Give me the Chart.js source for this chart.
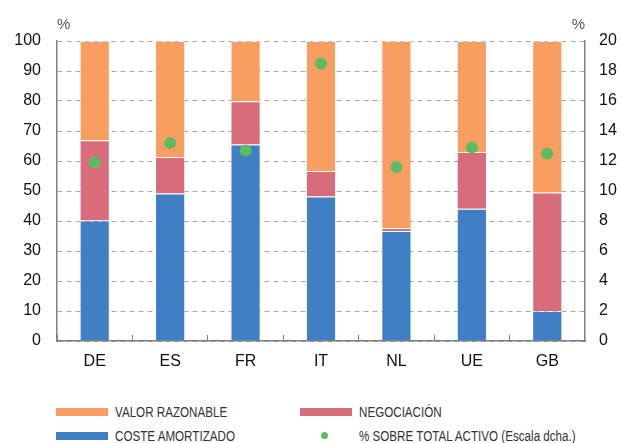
<!DOCTYPE html>
<html>
<head>
<meta charset="utf-8">
<script src="https://cdn.jsdelivr.net/npm/chart.js@4/dist/chart.umd.min.js"></script>
<style>
  body { margin: 0; background: #fff; width: 621px; height: 443px; overflow: hidden; position: relative; font-family: "Liberation Sans", Arial, sans-serif; }
  #wrap { position: absolute; left: 0; top: 0; width: 621px; height: 380px; }
  .lg { position: absolute; font-family: "Liberation Sans", Arial, sans-serif; font-size: 15.5px; color: #333; line-height: 16px; white-space: nowrap; transform: scaleX(0.75); transform-origin: left center; }
  .sw { position: absolute; width: 52px; height: 8px; }
  .dot { position: absolute; width: 7px; height: 7px; border-radius: 50%; }
</style>
</head>
<body>
<div id="wrap"><canvas id="myChart"></canvas></div>
<div id="legend"></div>
<script>
const countries = ["DE", "ES", "FR", "IT", "NL", "UE", "GB"];
const costeAmortizado = [40.2, 49.2, 65.5, 48.2, 36.7, 44.1, 10.0];
const negociacion = [26.7, 12.1, 14.4, 8.5, 1.0, 18.9, 39.5];
const valorRazonable = [33.1, 38.7, 20.1, 43.3, 62.3, 37.0, 50.5];
const sobreActivo = [11.9, 13.2, 12.7, 18.5, 11.6, 12.9, 12.5];
const leftTicks = [0, 100, 10];
const rightTicks = [0, 20, 2];

const orange = "#f89e61";
const red = "#d86c7b";
const blue = "#3f7fc3";
const green = "#5dbb63";
const gridGray = "#a8a8a8";
const axisGray = "#808080";
const tickFont = { family: "'Liberation Sans', Arial, sans-serif", size: 16 };

const percentLabels = {
  id: "percentLabels",
  afterDraw(chart) {
    const { ctx, chartArea } = chart;
    ctx.save();
    ctx.font = "15px 'Liberation Sans', Arial, sans-serif";
    ctx.fillStyle = "#555";
    ctx.textBaseline = "middle";
    ctx.textAlign = "left";
    ctx.fillText("%", chartArea.left, 25);
    ctx.textAlign = "right";
    ctx.fillText("%", chartArea.right, 25);
    ctx.restore();
  },
};

const datasets = [
  {
    type: "line",
    label: "% SOBRE TOTAL ACTIVO (Escala dcha.)",
    data: sobreActivo,
    yAxisID: "y1",
    showLine: false,
    pointRadius: 6,
    pointHoverRadius: 6,
    pointBackgroundColor: green,
    pointBorderWidth: 0,
    backgroundColor: green,
    borderColor: green,
    order: 0,
  },
  { label: "COSTE AMORTIZADO", data: costeAmortizado, backgroundColor: blue, borderColor: "rgba(255,255,255,0.35)", borderWidth: 1, order: 1 },
  { label: "NEGOCIACIÓN", data: negociacion, backgroundColor: red, borderColor: "rgba(255,255,255,0.35)", borderWidth: 1, order: 1 },
  { label: "VALOR RAZONABLE", data: valorRazonable, backgroundColor: orange, borderColor: "rgba(255,255,255,0.35)", borderWidth: 1, order: 1 },
];

const ctx = document.getElementById("myChart").getContext("2d");
const myChart = new Chart(ctx, {
  type: "bar",
  data: { labels: countries, datasets },
  options: {
    responsive: true,
    maintainAspectRatio: false,
    animation: false,
    barPercentage: 0.4,
    categoryPercentage: 1,
    layout: { padding: { top: 41, left: 0, right: 0, bottom: 0 } },
    plugins: { legend: { display: false }, tooltip: { enabled: false } },
    scales: {
      x: {
        stacked: true,
        afterFit: (s) => { s.height = 39; },
        grid: { display: true, drawOnChartArea: false, drawTicks: true, tickLength: -6, color: axisGray },
        border: { display: true, color: axisGray, width: 1.5 },
        ticks: { color: "#111", font: tickFont, padding: 17, maxRotation: 0 },
      },
      y: {
        stacked: true,
        min: leftTicks[0],
        max: leftTicks[1],
        afterFit: (s) => { s.width = 57; },
        ticks: { stepSize: leftTicks[2], color: "#111", font: tickFont, padding: 16 },
        grid: { color: gridGray, lineWidth: 1, drawTicks: false },
        border: { display: true, color: axisGray, width: 1.5, dash: [5, 4] },
      },
      y1: {
        position: "right",
        min: rightTicks[0],
        max: rightTicks[1],
        afterFit: (s) => { s.width = 36; },
        ticks: { stepSize: rightTicks[2], color: "#111", font: tickFont, padding: 14 },
        grid: { drawOnChartArea: false, drawTicks: false },
        border: { display: true, color: axisGray, width: 1.5 },
      },
    },
  },
  plugins: [percentLabels],
});

// legend laid out in two columns, like the source
const legendItems = [
  { ds: datasets[3], x: 56, y: 411.5, kind: "bar" },
  { ds: datasets[2], x: 300, y: 411.5, kind: "bar" },
  { ds: datasets[1], x: 56, y: 435.5, kind: "bar" },
  { ds: datasets[0], x: 300, y: 435.5, kind: "dot" },
];
const legend = document.getElementById("legend");
legendItems.forEach((it) => {
  const mark = document.createElement("div");
  if (it.kind === "bar") {
    mark.className = "sw";
    mark.style.left = it.x + "px";
    mark.style.top = it.y - 4 + "px";
  } else {
    mark.className = "dot";
    mark.style.left = it.x + 21 + "px";
    mark.style.top = it.y - 3.5 + "px";
  }
  mark.style.background = it.ds.backgroundColor;
  legend.appendChild(mark);
  const txt = document.createElement("div");
  txt.className = "lg";
  txt.textContent = it.ds.label;
  txt.style.left = it.x + 59 + "px";
  txt.style.top = it.y - 8 + "px";
  legend.appendChild(txt);
});
</script>
</body>
</html>
